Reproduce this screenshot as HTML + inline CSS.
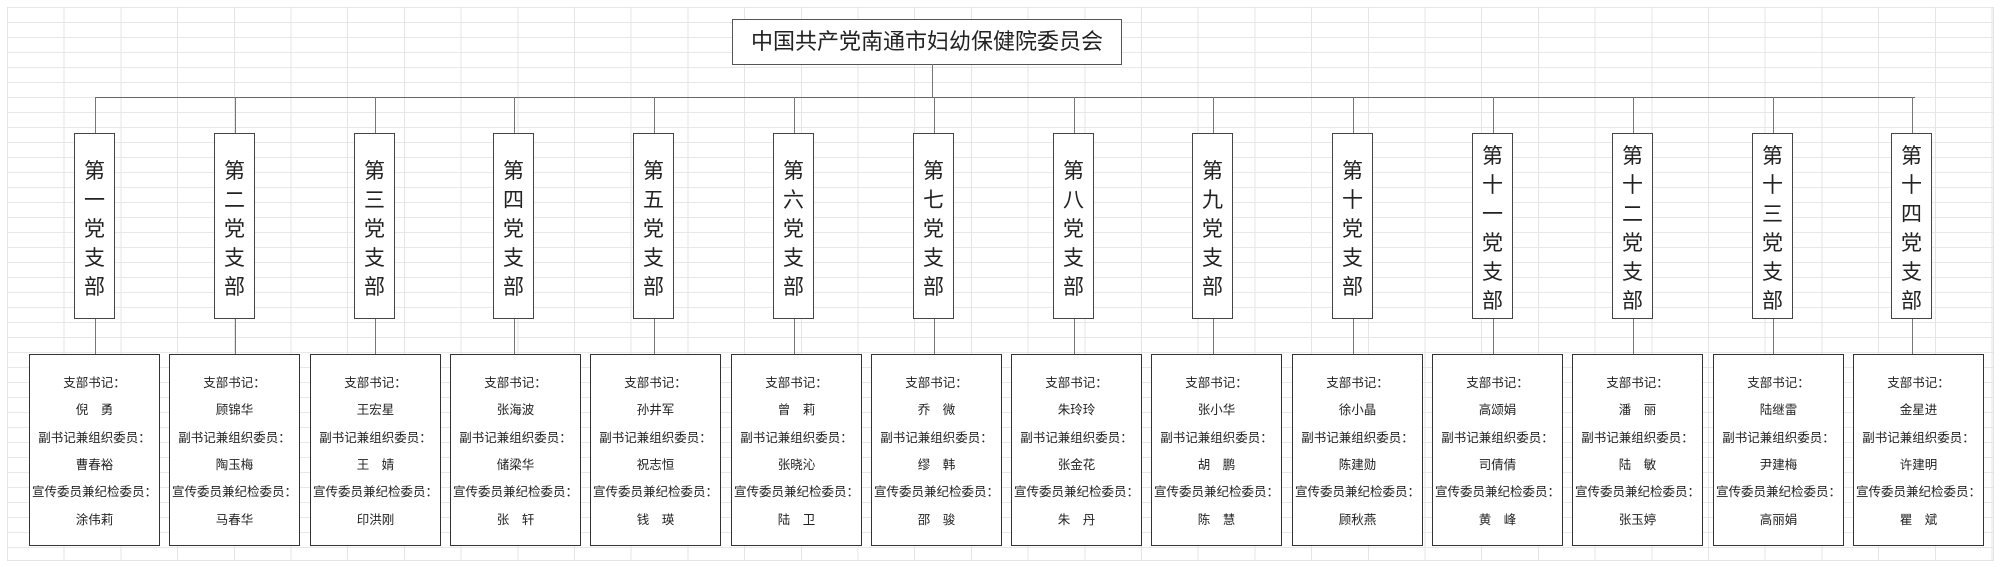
<!DOCTYPE html>
<html><head><meta charset="utf-8"><style>
body{margin:0;width:2000px;height:567px;background:#fff;position:relative;overflow:hidden;font-family:"Liberation Sans","Noto Sans CJK SC",sans-serif;color:#222}
.grid{position:absolute;left:7px;top:7px;width:1986px;height:553px;
background-image:repeating-linear-gradient(to right,#e4e4e4 0,#e4e4e4 1px,transparent 1px,transparent 56.7px),repeating-linear-gradient(to bottom,#e8e8e8 0,#e8e8e8 1px,transparent 1px,transparent 15px);border-right:1px solid #e4e4e4;border-bottom:1px solid #e4e4e4}
.title{position:absolute;left:732px;top:19px;width:388px;height:44px;border:1px solid #555;background:#fff;font-size:22px;line-height:44px;text-align:center}
.node{position:absolute;top:133px;width:41px;height:184px;border:1px solid #444;background:#fff;display:flex;flex-direction:column;justify-content:center;align-items:center;font-size:21px;line-height:29px;padding-top:6px;box-sizing:border-box;height:186px}
.box{position:absolute;top:354px;width:131px;height:190px;border:1px solid #333;background:#fff;display:flex;flex-direction:column;justify-content:center;align-items:center;font-size:12.5px;line-height:27.4px;padding-top:4px;box-sizing:border-box;height:192px;white-space:nowrap}
.v{position:absolute;width:1px;background:#777}
.h{position:absolute;height:1px;background:#666}
</style></head><body>
<div class="grid"></div>
<div class="title">中国共产党南通市妇幼保健院委员会</div>
<div class="v" style="left:932px;top:64px;height:33px"></div>
<div class="h" style="left:95px;top:97px;width:1820px"></div>
<div id="c"></div>
<script>
var nums=["一","二","三","四","五","六","七","八","九","十","十一","十二","十三","十四"];
var d=[["倪　勇","曹春裕","涂伟莉"],["顾锦华","陶玉梅","马春华"],["王宏星","王　婧","印洪刚"],["张海波","储梁华","张　轩"],["孙井军","祝志恒","钱　瑛"],["曾　莉","张晓沁","陆　卫"],["乔　微","缪　韩","邵　骏"],["朱玲玲","张金花","朱　丹"],["张小华","胡　鹏","陈　慧"],["徐小晶","陈建勋","顾秋燕"],["高颂娟","司倩倩","黄　峰"],["潘　丽","陆　敏","张玉婷"],["陆继雷","尹建梅","高丽娟"],["金星进","许建明","瞿　斌"]];
var h="";
for(var i=0;i<14;i++){
var nx=74+i*139.8, bx=29+i*140.3, cx=Math.round(nx+21);
h+='<div class="v" style="left:'+cx+'px;top:97px;height:36px"></div>';
h+='<div class="v" style="left:'+cx+'px;top:319px;height:35px"></div>';
var t="第"+nums[i]+"党支部", s="";
for(var k=0;k<t.length;k++) s+='<div>'+t[k]+'</div>';
h+='<div class="node" style="left:'+Math.round(nx)+'px">'+s+'</div>';
h+='<div class="box" style="left:'+Math.round(bx)+'px"><div>支部书记：</div><div>'+d[i][0]+'</div><div>副书记兼组织委员：</div><div>'+d[i][1]+'</div><div>宣传委员兼纪检委员：</div><div>'+d[i][2]+'</div></div>';
}
document.getElementById("c").innerHTML=h;
</script>
</body></html>
